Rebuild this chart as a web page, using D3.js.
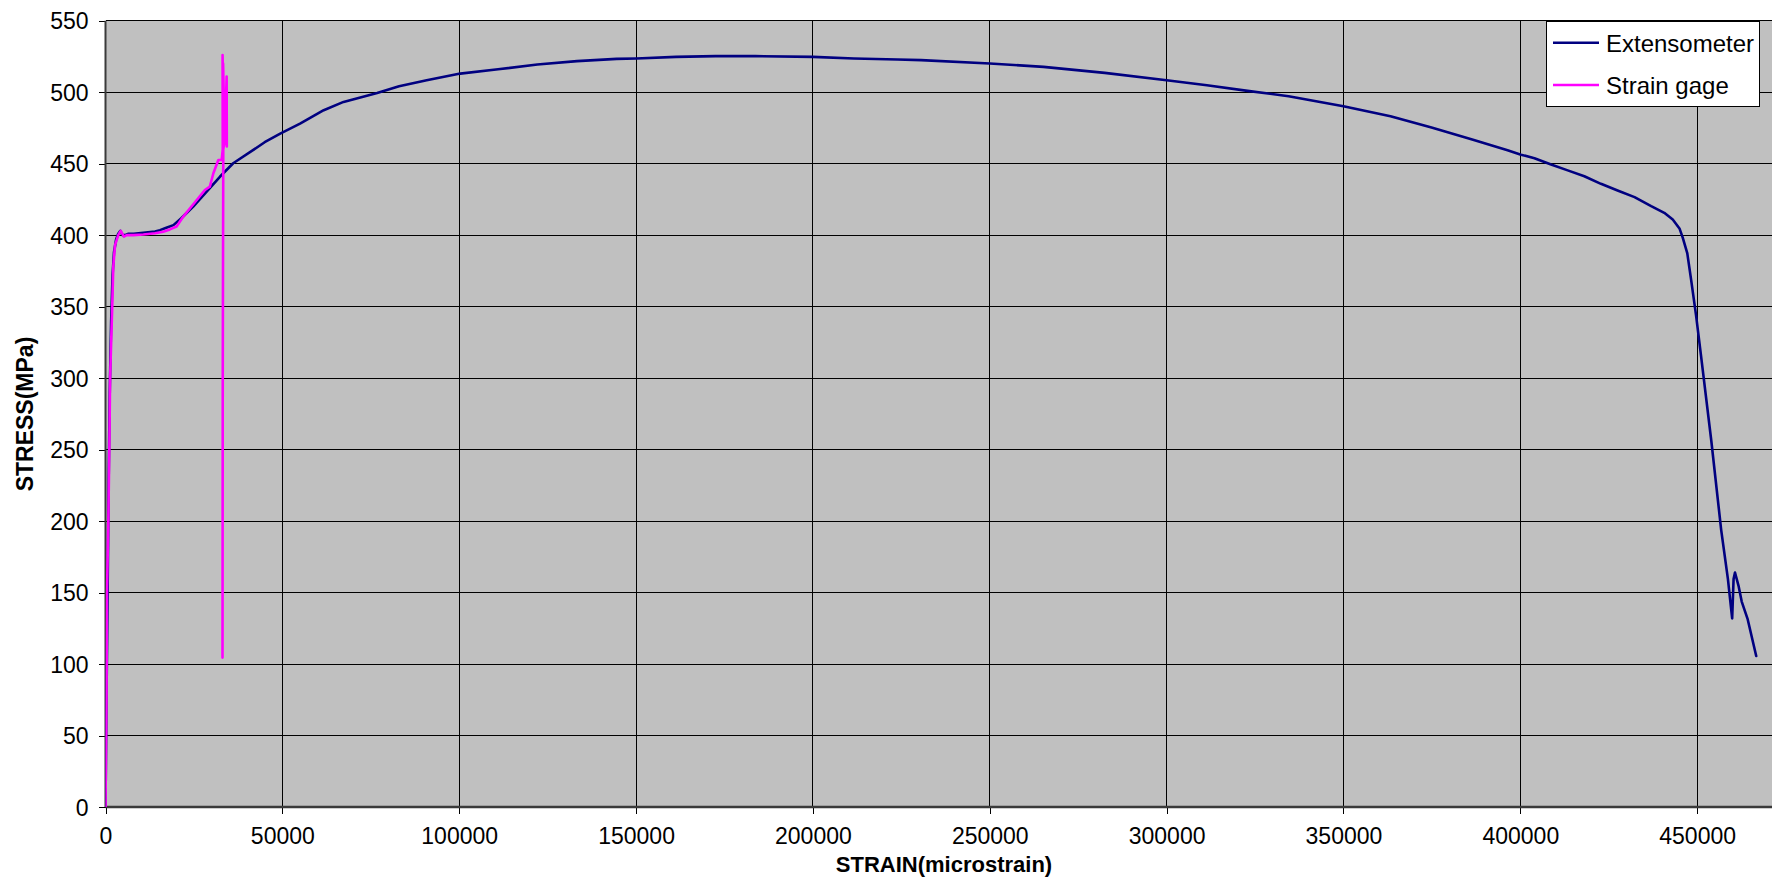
<!DOCTYPE html>
<html>
<head>
<meta charset="utf-8">
<script src="https://cdn.jsdelivr.net/npm/d3@7"></script>
<style>
  html, body { margin: 0; padding: 0; background: #fff; overflow: hidden; }
  svg { display: block; font-family: "Liberation Sans", Arial, sans-serif; }
</style>
</head>
<body>
<svg id="chart" width="1772" height="878"></svg>
<script>
// Extensometer readings: strain (microstrain) and stress (MPa)
const extStrain = [0, 300, 600, 900, 1200, 1600, 2000, 2400, 3000, 3600,
  4200, 4800, 5500, 6500, 8000, 10000, 12000, 14000, 15400, 17000,
  19200, 21500, 24800, 28600, 32400, 36100, 41800, 45000, 49400, 55000,
  61700, 67300, 76800, 83000, 90800, 100300, 111000, 122100, 133300, 144500,
  150100, 161300, 172500, 183700, 200000, 211600, 223900, 230600, 250000, 265200,
  282500, 300000, 311400, 322900, 334500, 350000, 363300, 374900, 386400, 396400,
  400200, 404000, 408700, 413400, 418100, 422800, 427500, 432300, 437000, 440700,
  443100, 445000, 445900, 447200, 448300, 449700, 451100, 454000, 456800, 458700,
  459900, 460300, 460700, 461700, 462600, 464300, 466700];
const extStress = [0, 80, 150, 230, 290, 340, 372, 388, 397, 401,
  403, 400, 400, 401, 401, 401.5, 402, 402.5, 403.5, 405,
  407, 412, 420, 430.4, 441, 450.3, 459.6, 465, 471, 478,
  487.4, 493.2, 499.5, 504.2, 508.4, 513, 516, 519.4, 521.7, 523.3,
  523.6, 524.7, 525.2, 525.2, 524.7, 523.6, 522.9, 522.4, 520.1, 517.7,
  513.5, 508.4, 504.9, 500.9, 497.2, 490.2, 483.2, 475.3, 466.9, 459.4,
  456.3, 453.8, 449.4, 445.3, 441.2, 435.9, 431.2, 426.6, 420.3, 415.6,
  410.9, 404.7, 398.4, 387.5, 368.7, 343.7, 315.6, 256.2, 193.7, 159.4,
  131.9, 159.4, 164, 154.7, 143.7, 131.2, 105.6];

// Strain gage readings (gage debonds around 33000 microstrain)
const gageStrain = [0, 300, 420, 800, 1080, 1300, 1900, 2200, 2700, 3600,
  4300, 5200, 6000, 7900, 10700, 14000, 16300, 18200, 20100, 22000,
  23900, 25800, 28100, 29500, 30500, 31900, 32850, 33150, 33100, 33450,
  33250, 33700, 34250, 34300, 33600, 34000, 33300, 33150, 33100, 33080];
const gageStress = [0, 80, 150, 200, 250, 300, 350, 378, 393, 400,
  403, 399, 400, 400, 400.5, 401.3, 402.4, 404, 406, 413,
  418.8, 424.6, 431.6, 433.9, 443.3, 452.6, 452.6, 460, 526, 470,
  520, 465, 511, 462, 500, 470, 460, 300, 150, 104.5];

const xTicks = [0, 50000, 100000, 150000, 200000, 250000, 300000, 350000, 400000, 450000];
const yTicks = [0, 50, 100, 150, 200, 250, 300, 350, 400, 450, 500, 550];
const seriesNames = ["Extensometer", "Strain gage"];
const seriesColors = ["#000080", "#FF00FF"];

const svg = d3.select("#chart");
const plotLeft = 105.5, plotTop = 20.7, plotBottom = 807, plotRight = 1874;

const x = d3.scaleLinear().domain([0, 500000]).range([plotLeft, plotRight]);
const y = d3.scaleLinear().domain([0, 550]).range([plotBottom, plotTop]);

// plot area
svg.append("rect")
  .attr("x", plotLeft).attr("y", plotTop)
  .attr("width", plotRight - plotLeft).attr("height", plotBottom - plotTop)
  .attr("fill", "#C0C0C0");

// gridlines
const grid = svg.append("g").attr("stroke", "#000").attr("stroke-width", 1).attr("shape-rendering", "crispEdges");
grid.selectAll(".gy").data(yTicks.filter(d => d > 0)).join("line")
  .attr("x1", plotLeft).attr("x2", plotRight)
  .attr("y1", d => y(d)).attr("y2", d => y(d));
grid.selectAll(".gx").data(xTicks.filter(d => d > 0)).join("line")
  .attr("x1", d => x(d)).attr("x2", d => x(d))
  .attr("y1", plotTop).attr("y2", plotBottom);

// axes
const xAxis = d3.axisBottom(x).tickValues(xTicks).tickSize(7).tickPadding(14).tickFormat(d3.format("d"));
const yAxis = d3.axisLeft(y).tickValues(yTicks).tickSize(7).tickPadding(10).tickFormat(d3.format("d"));

const gx = svg.append("g").attr("transform", `translate(0,${plotBottom})`).call(xAxis);
const gy = svg.append("g").attr("transform", `translate(${plotLeft},0)`).call(yAxis);
[gx, gy].forEach(g => {
  g.select(".domain").remove();
  g.selectAll(".tick line").attr("stroke", "#000").attr("shape-rendering", "crispEdges");
  g.selectAll(".tick text").attr("fill", "#000").attr("font-size", 23)
    .attr("font-family", "'Liberation Sans', Arial, sans-serif");
});
gy.selectAll(".tick text").attr("dy", "0.36em");

// axis lines
svg.append("line").attr("x1", plotLeft).attr("x2", plotRight).attr("y1", plotBottom).attr("y2", plotBottom)
  .attr("stroke", "#3a3a3a").attr("stroke-width", 2.5);
svg.append("line").attr("x1", plotLeft).attr("x2", plotLeft).attr("y1", plotTop).attr("y2", plotBottom)
  .attr("stroke", "#3a3a3a").attr("stroke-width", 2);

// curves
svg.append("clipPath").attr("id", "plotClip").append("rect")
  .attr("x", plotLeft).attr("y", plotTop - 2).attr("width", plotRight - plotLeft).attr("height", plotBottom - plotTop + 2);

const line = d3.line().x(d => x(d[0])).y(d => y(d[1]));
const extData = extStrain.map((s, i) => [s, extStress[i]]);
const gageData = gageStrain.map((s, i) => [s, gageStress[i]]);

const curves = svg.append("g").attr("clip-path", "url(#plotClip)")
  .attr("fill", "none").attr("stroke-linejoin", "round").attr("stroke-linecap", "round");
curves.append("path").datum(extData).attr("d", line)
  .attr("stroke", seriesColors[0]).attr("stroke-width", 2.6);
curves.append("path").datum(gageData).attr("d", line)
  .attr("stroke", seriesColors[1]).attr("stroke-width", 2.6);

// axis titles
svg.append("text")
  .attr("x", 944).attr("y", 872)
  .attr("text-anchor", "middle").attr("font-weight", "bold").attr("font-size", 22)
  .text("STRAIN(microstrain)");
svg.append("text")
  .attr("transform", "translate(33,414) rotate(-90)")
  .attr("text-anchor", "middle").attr("font-weight", "bold").attr("font-size", 23)
  .text("STRESS(MPa)");

// legend
const legend = svg.append("g");
legend.append("rect")
  .attr("x", 1546.5).attr("y", 21.5).attr("width", 213).attr("height", 85)
  .attr("fill", "#fff").attr("stroke", "#000").attr("stroke-width", 1);
const items = legend.selectAll(".item").data(seriesNames).join("g")
  .attr("transform", (d, i) => `translate(0,${42.7 + i * 42.3})`);
items.append("line").attr("x1", 1553).attr("x2", 1599).attr("y1", 0).attr("y2", 0)
  .attr("stroke", (d, i) => seriesColors[i]).attr("stroke-width", 2.6);
items.append("text").attr("x", 1606).attr("y", 8.8)
  .attr("font-size", 24).attr("fill", "#000").text(d => d);
</script>
</body>
</html>
